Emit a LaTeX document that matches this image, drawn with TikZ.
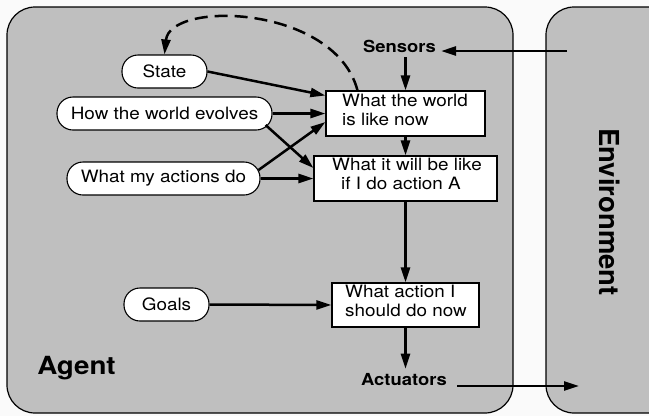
\documentclass[tikz,border=0pt]{standalone}
\usepackage{fontspec}
\setmainfont{TeX Gyre Heros}[FakeStretch=1.11]
\newfontfamily\upright{TeX Gyre Heros}
\usetikzlibrary{arrows.meta}

\begin{document}
\begin{tikzpicture}[x=1pt,y=-1pt,
  panel/.style={draw=black, line width=1.2pt, fill=black!25, rounded corners=28pt},
  pill/.style={draw, fill=white, line width=1.1pt, rounded corners=16pt,
    minimum height=33pt, inner sep=0pt, font=\fontsize{17}{19}\selectfont},
  statebox/.style={draw, fill=white, line width=1.2pt, inner sep=0pt},
  lbl/.style={inner sep=0pt, align=left, font=\fontsize{17}{19}\selectfont},
  port/.style={inner sep=5pt, font=\bfseries\fontsize{16.6}{19}\selectfont},
  flow/.style={line width=2.5pt, -{Triangle[length=15pt,width=9pt]}},
]
% canvas and bounding box
\fill[white!98!black] (0,0) rectangle (649,416);
\useasboundingbox (0,0) rectangle (649,416);

% agent and environment panels
\draw[panel] (7,7) rectangle (513,413);
\begin{scope}
  \clip (0,0) rectangle (649,416);
  \draw[panel] (546,7) rectangle (720,413);
\end{scope}

\node[font=\bfseries\fontsize{25}{28}\selectfont, inner sep=0pt] (agent) at (76.5,368) {Agent};
\node[font=\upright\bfseries\fontsize{27.5}{30}\selectfont, rotate=-90, inner sep=0pt] (env) at (610,212) {Environment};

% knowledge ovals
\node[pill, minimum width=85pt]  (state) at (164.5,71.5)  {State};
\node[pill, minimum width=215pt] (how)   at (164.5,113.5) {How the world evolves};
\node[pill, minimum width=193pt] (act)   at (163.5,178.5) {What my actions do};
\node[pill, minimum width=85pt]  (goals) at (166.5,304.5) {Goals};

% reasoning boxes
\node[statebox, minimum width=159pt, minimum height=45pt] (now)    at (405.5,113.5) {};
\node[statebox, minimum width=183pt, minimum height=45pt] (willbe) at (405.5,178.5) {};
\node[statebox, minimum width=147pt, minimum height=44pt] (action) at (405.5,305)   {};
\node[lbl, anchor=west] (nowtxt)    at (342,109.5) {What the world\\is like now};
\node[lbl, anchor=west] (willtxt)   at (332,174)   {What it will be like\\\hspace*{9pt}if I do action A};
\node[lbl, anchor=west] (actiontxt) at (345,301)   {What action I\\should do now};

% sensors and actuators
\node[port] (sensors)   at (399.5,46) {Sensors};
\node[port] (actuators) at (404,380)  {Actuators};
\coordinate (envin)  at (567,51);
\coordinate (envout) at (579,386);

% connectors
\draw[flow] (envin) -- (envin -| sensors.east);
\draw[flow] (sensors.south -| now.north) -- (now.north);
\draw[flow] (now.south) -- (willbe.north);
\draw[flow] (willbe.south) -- (action.north);
\draw[flow] (action.south) -- (action.south |- actuators.north);
\draw[flow, shorten <=5pt] (envout -| actuators.east) -- (envout);

\draw[flow] (state.east) -- ([yshift=18pt]now.west);
\draw[flow] (how.east) -- (now.west);
\draw[flow] ([xshift=-7pt,yshift=-11.5pt]how.east) -- ([yshift=10.5pt]willbe.west);
\draw[flow] ([xshift=-2pt,yshift=8.5pt]act.east) -- ([yshift=-8.5pt]now.west);
\draw[flow] (act.east) -- (willbe.west);
\draw[flow] (goals.east) -- (action.west);

% feedback of the internal state
\draw[flow, dash pattern=on 13pt off 7pt]
  ([xshift=-48pt]now.north) .. controls (335,5) and (170,0) .. (state.north);
\end{tikzpicture}
\end{document}
